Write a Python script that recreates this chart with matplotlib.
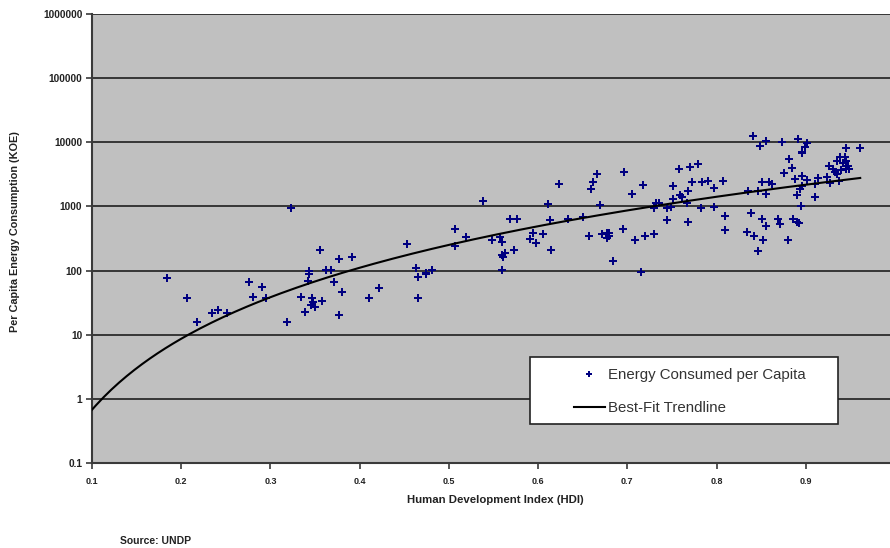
import numpy as np
import matplotlib
matplotlib.use("Agg")
import matplotlib.pyplot as plt
from matplotlib.patches import Rectangle
from matplotlib.lines import Line2D

# ---- data ----
hdi = [0.184, 0.206, 0.218, 0.235, 0.241, 0.251, 0.276, 0.280, 0.291, 0.295,
       0.318, 0.323, 0.334, 0.339, 0.343, 0.343, 0.342, 0.347, 0.348, 0.345,
       0.350, 0.356, 0.358, 0.362, 0.368, 0.371, 0.377, 0.380, 0.377, 0.391,
       0.411, 0.422,
       0.453, 0.463, 0.465, 0.474, 0.474, 0.481, 0.465, 0.507, 0.507, 0.519,
       0.538, 0.548, 0.557, 0.560, 0.568, 0.576, 0.563, 0.561, 0.560, 0.573,
       0.560, 0.591, 0.594, 0.598, 0.605, 0.611, 0.613, 0.615, 0.623, 0.634,
       0.650, 0.657, 0.661, 0.659, 0.666, 0.669, 0.672, 0.677, 0.679, 0.677,
       0.680, 0.684, 0.695, 0.696, 0.705, 0.709, 0.715, 0.718, 0.720, 0.730,
       0.732, 0.735, 0.730, 0.745, 0.745, 0.751, 0.758, 0.770, 0.779, 0.772,
       0.784, 0.790, 0.807, 0.797, 0.768, 0.759, 0.751, 0.761, 0.767, 0.749,
       0.783, 0.797, 0.768, 0.810, 0.809,
       0.841, 0.855, 0.849, 0.873, 0.891, 0.901, 0.899, 0.896, 0.896, 0.945,
       0.961, 0.881, 0.885, 0.876, 0.835, 0.851, 0.859, 0.862, 0.846, 0.855,
       0.839, 0.851, 0.855, 0.869, 0.871, 0.834, 0.842, 0.852, 0.846, 0.880,
       0.886, 0.890, 0.892, 0.888, 0.896, 0.901, 0.896, 0.893, 0.890, 0.895,
       0.910, 0.910, 0.914, 0.924, 0.927, 0.937,
       0.926, 0.931, 0.935, 0.938, 0.944, 0.945, 0.947, 0.942, 0.933, 0.940,
       0.945, 0.935, 0.949]

energy = [77, 38, 16, 22, 24, 22, 66, 39, 56, 38,
          16, 930, 39, 23, 98, 87, 69, 37, 32, 29,
          27, 209, 34, 102, 102, 66, 152, 47, 20, 161,
          37, 53,
          255, 109, 80, 93, 87, 102, 38, 440, 239, 330,
          1230, 298, 331, 279, 641, 630, 186, 164, 175, 209,
          102, 311, 381, 266, 368, 1110, 604, 209, 2240, 630,
          684, 344, 2380, 1860, 3180, 1050, 368, 381, 346, 319,
          390, 143, 442, 3420, 1590, 300, 96, 2170, 346, 369,
          1120, 1140, 935, 940, 615, 2110, 3800, 4080, 4640, 2390,
          2420, 2510, 2510, 1930, 1720, 1520, 1320, 1390, 1150, 980,
          955, 987, 568, 717, 429,
          12700, 10600, 8820, 10200, 11100, 9860, 8540, 7130, 6740, 8070,
          8070, 5430, 3930, 3290, 1740, 2390, 2390, 2240, 1710, 1570,
          790, 630, 487, 630, 527, 400, 344, 300, 200, 300,
          632, 578, 552, 2650, 2930, 2540, 2050, 1870, 1510, 1020,
          1400, 2200, 2780, 2850, 2360, 2520,
          4270, 3900, 5200, 5970, 5970, 5110, 4200, 4670, 3440, 3700,
          3900, 3260, 3900]

x_ticks = [0.1, 0.2, 0.3, 0.4, 0.5, 0.6, 0.7, 0.8, 0.9]
x_tick_labels = ["0.1", "0.2", "0.3", "0.4", "0.5", "0.6", "0.7", "0.8", "0.9"]
y_ticks = [0.1, 1, 10, 100, 1000, 10000, 100000, 1000000]
y_tick_labels = ["0.1", "1", "10", "100", "1000", "10000", "100000", "1000000"]

series_label = "Energy Consumed per Capita"
trend_label = "Best-Fit Trendline"

# ---- figure ----
W, H = 890, 548
fig = plt.figure(figsize=(W / 100, H / 100), dpi=100)
fig.patch.set_facecolor("white")

ax_left, ax_right, ax_top, ax_bottom = 92, 895, 14, 463
ax = fig.add_axes([ax_left / W, 1 - ax_bottom / H,
                   (ax_right - ax_left) / W, (ax_bottom - ax_top) / H])
ax.set_facecolor("#c0c0c0")
ax.set_yscale("log")
ax.set_xlim(0.1, 1.0)
ax.set_ylim(0.1, 1e6)

# horizontal gridlines
ax.yaxis.grid(True, color="#1e1e1e", linewidth=1.2)
ax.xaxis.grid(False)
ax.set_axisbelow(True)

x = np.array(hdi)
y = np.array(energy)

# scatter
ax.scatter(x, y, marker="P", s=34, color="#000080", linewidths=0, zorder=3)

# power-law best-fit trendline from the data (log-log least squares)
b, loga = np.polyfit(np.log10(x), np.log10(y), 1)
xt = np.linspace(0.1, x.max(), 200)
ax.plot(xt, 10 ** loga * xt ** b, color="black", linewidth=1.5, zorder=4)

# axes styling
for s in ["top", "right"]:
    ax.spines[s].set_visible(False)
for s in ["left", "bottom"]:
    ax.spines[s].set_color("#3a3a3a")
    ax.spines[s].set_linewidth(1.5)

ax.set_xticks(x_ticks)
ax.set_xticklabels(x_tick_labels, fontsize=6.5, fontweight="bold",
                   family="Liberation Sans", color="#222222")
ax.set_yticks(y_ticks)
ax.set_yticklabels(y_tick_labels, fontsize=7.3, fontweight="bold",
                   family="Liberation Sans", color="#222222")
ax.yaxis.set_minor_locator(matplotlib.ticker.NullLocator())
ax.tick_params(axis="both", which="major", direction="out", length=4,
               width=1.2, color="#3a3a3a")
ax.tick_params(axis="x", pad=6)
ax.tick_params(axis="y", pad=3)

# axis labels
fig.text(15 / W, 1 - 232 / H, "Per Capita Energy Consumption (KOE)",
         rotation=90, ha="center", va="center", fontsize=7.8,
         fontweight="bold", family="Liberation Sans", color="#222222")
fig.text(495 / W, 1 - 500 / H, "Human Development Index (HDI)",
         ha="center", va="center", fontsize=8.2, fontweight="bold",
         family="Liberation Sans", color="#222222")
fig.text(120 / W, 1 - 541 / H, "Source: UNDP", ha="left", va="center",
         fontsize=7.5, fontweight="bold", family="Liberation Sans",
         color="#222222")

# legend box (drawn in pixel-derived figure fraction)
lx0, lx1, ly0, ly1 = 530, 838, 357, 424
box = Rectangle((lx0 / W, 1 - ly1 / H), (lx1 - lx0) / W, (ly1 - ly0) / H,
                transform=fig.transFigure, facecolor="white",
                edgecolor="#222222", linewidth=1.2, zorder=5)
fig.patches.append(box)

handles = [Line2D([], [], linestyle="none", marker="P", markersize=5,
                  color="#000080", markeredgewidth=0),
           Line2D([], [], color="black", linewidth=1.5)]
leg = fig.legend(handles, [series_label, trend_label],
                 loc="upper left", bbox_to_anchor=(560 / W, 1 - 355 / H),
                 frameon=False, handlelength=2.1,
                 handletextpad=0.2, labelspacing=1.25,
                 prop={"family": "Liberation Sans", "size": 10.8})
leg.set_zorder(6)
for t in leg.get_texts():
    t.set_color("#333333")

fig.savefig("out.png", dpi=100)
